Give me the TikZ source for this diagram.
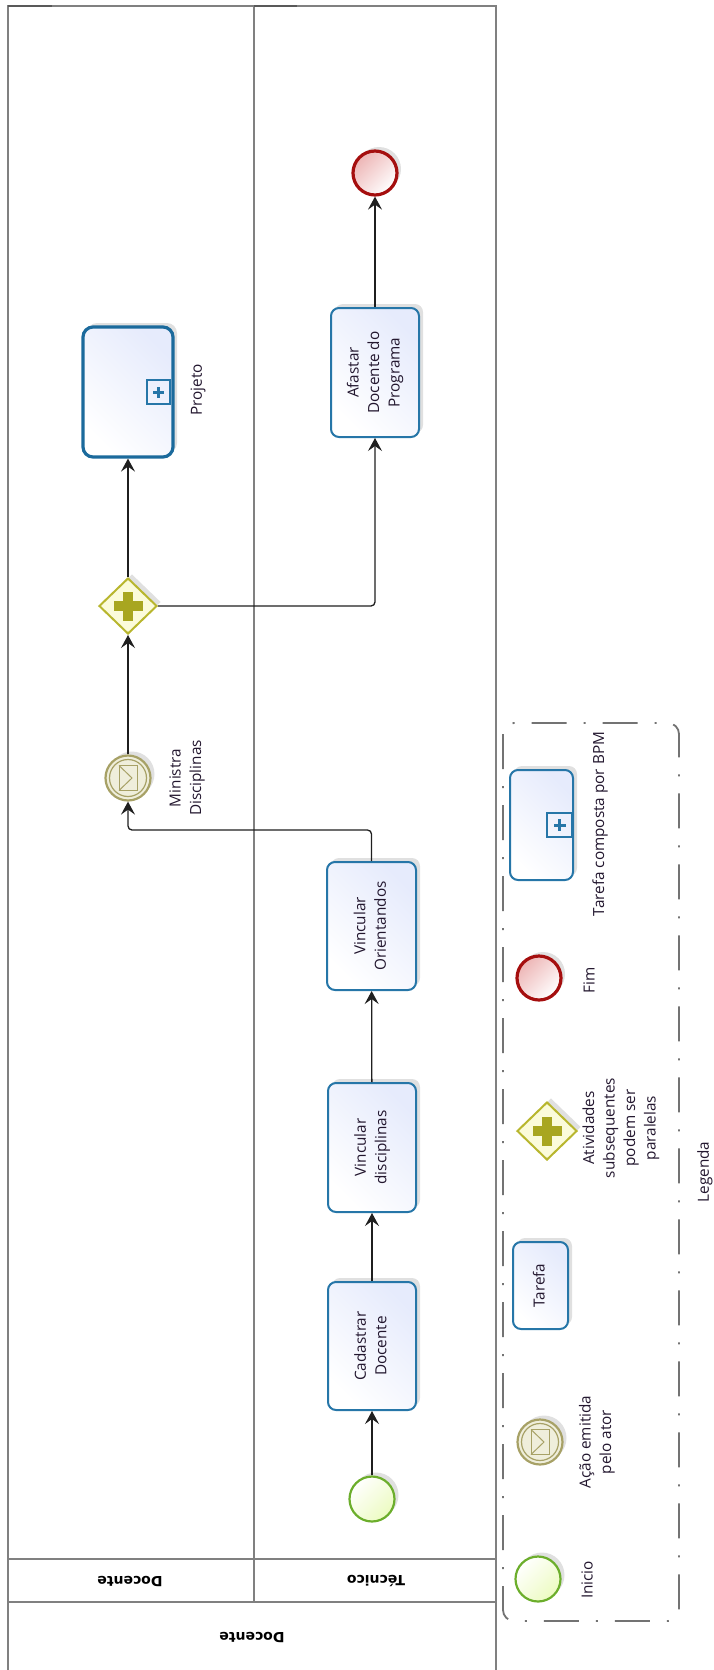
\documentclass[tikz,border=0pt]{standalone}
\usepackage{fontspec}
\setmainfont{Open Sans}
\newfontfamily\hdrfont{DejaVu Sans}
\usetikzlibrary{arrows.meta,shapes.geometric,shadows,calc}
\definecolor{taskB}{HTML}{2676A8}
\definecolor{projB}{HTML}{1B6A9C}
\definecolor{taskF}{HTML}{E6EBFC}
\definecolor{startB}{HTML}{6CAE2C}
\definecolor{startF}{HTML}{ECFBC0}
\definecolor{endB}{HTML}{A50E0E}
\definecolor{endF}{HTML}{EDB5B5}
\definecolor{msgB}{HTML}{A7A166}
\definecolor{msgF}{HTML}{EFEEDB}
\definecolor{gwB}{HTML}{B8B62E}
\definecolor{gwF}{HTML}{FBFBDA}
\definecolor{gwP}{HTML}{A8A620}
\definecolor{poolL}{HTML}{808080}
\definecolor{txt}{HTML}{22162E}
\newcommand\mfs{\fontsize{15.3}{20.5}\selectfont}
\newcommand\vtext[1]{\rotatebox{90}{\begin{tabular}{@{}c@{}}#1\end{tabular}}}
\begin{document}
\begin{tikzpicture}[x=1pt,y=-1pt,
  pool/.style={draw=poolL, line width=1.5pt},
  topmark/.style={draw=black!65, line width=2.5pt},
  shad/.style={drop shadow={shadow xshift=4pt, shadow yshift=4pt, opacity=0.12, fill=black}},
  task/.style={shad, draw=taskB, line width=2pt, rounded corners=8pt, shading=axis,
    top color=taskF, bottom color=white, shading angle=-45, inner sep=0pt,
    text=txt, font=\mfs},
  startev/.style={shad, circle, draw=startB, line width=2.2pt, shading=axis,
    top color=white, bottom color=startF, shading angle=45, minimum size=45pt, inner sep=0pt},
  endev/.style={shad, circle, draw=endB, line width=3.2pt, shading=axis,
    top color=endF, bottom color=white, shading angle=45, minimum size=44pt, inner sep=0pt},
  msgev/.style={shad, circle, draw=msgB, line width=2.2pt, fill=msgF, minimum size=45pt, inner sep=0pt},
  gateway/.style={shad, diamond, draw=gwB, line width=2pt, fill=gwF, minimum width=58pt,
    minimum height=56pt, inner sep=0pt},
  lbl/.style={rotate=90, align=center, text=txt, font=\mfs, inner sep=0pt},
  hdr/.style={rotate=180, text=black, font=\hdrfont\bfseries\fontsize{14}{16}\selectfont, inner sep=0pt},
  flow/.style={draw=black!88, line width=1.3pt, rounded corners=4pt,
    -{Stealth[length=13pt,width=14pt,inset=5pt]}},
  legbox/.style={draw=black!55, line width=1.8pt, rounded corners=11pt,
    dash pattern=on 35pt off 17pt on 2pt off 17pt}
]
\useasboundingbox (0,0) rectangle (713,1670);

% pool and lanes
\draw[pool] (8,1675) -- (8,6) -- (496,6) -- (496,1675);
\draw[pool] (254,6) -- (254,1602);
\draw[pool] (8,1559) -- (496,1559);
\draw[pool] (8,1602) -- (496,1602);
\draw[topmark] (8,6) -- (52,6);
\draw[topmark] (254,6) -- (297,6);
\node[hdr] (hdrDoc) at (130,1581) {Docente};
\node[hdr] (hdrTec) at (376,1581) {Técnico};
\node[hdr] (hdrPool) at (252,1637) {Docente};

% Tecnico lane
\node[startev] (start) at (372,1499) {};
\node[task, minimum width=88pt, minimum height=128pt] (cd) at (372,1346) {\vtext{Cadastrar\\Docente}};
\node[task, minimum width=88pt, minimum height=129pt] (vd) at (372,1147.5) {\vtext{Vincular\\disciplinas}};
\node[task, minimum width=89pt, minimum height=128pt] (vo) at (371.5,926) {\vtext{Vincular\\Orientandos}};
\node[task, minimum width=88pt, minimum height=129pt] (af) at (375,372.5) {\vtext{Afastar\\Docente do\\Programa}};
\node[endev] (end) at (375,173) {};

% Docente lane
\node[msgev] (me) at (128,778) {};
\draw[msgB, line width=1.2pt] (me) circle (18.5);
\draw[msgB, line width=1pt] ($(me)+(-9,-12.5)$) rectangle ($(me)+(9,12.5)$);
\draw[msgB, line width=1pt] ($(me)+(-9,-12.5)$) -- ($(me)+(4,0)$) -- ($(me)+(-9,12.5)$);
\node[lbl] (meLbl) at (187,778) {Ministra\\Disciplinas};

\node[gateway] (gw) at (128,606) {};
\fill[gwP] ($(gw)+(-14.5,-5)$) rectangle ($(gw)+(14.5,5)$);
\fill[gwP] ($(gw)+(-5,-14.5)$) rectangle ($(gw)+(5,14.5)$);

\node[task, draw=projB, line width=3.2pt, rounded corners=10pt, minimum width=90pt, minimum height=130pt] (proj) at (128,392) {};
\draw[taskB, line width=1.8pt] (147,380) rectangle (170,404);
\fill[taskB] (153,390.5) rectangle (164,393.5);
\fill[taskB] (157,386.5) rectangle (160,397.5);
\node[lbl] (projLbl) at (198,390) {Projeto};

% flows
\draw[flow] (start) -- (cd);
\draw[flow] (cd) -- (vd);
\draw[flow] (vd) -- (vo);
\draw[flow] (vo.north) -- ++(0,-31) -| (me.south);
\draw[flow] (me) -- (gw);
\draw[flow] (gw) -- (proj);
\draw[flow] (gw.east) -| (af.south);
\draw[flow] (af) -- (end);

% legend
\draw[legbox] (503,723) rectangle (679,1621);
\node[lbl] (legTitle) at (705,1172) {Legenda};

\node[startev] (lgStart) at (538,1579) {};
\node[lbl] (lgStartLbl) at (587,1580) {Inicio};

\node[msgev] (lgMsg) at (540,1442) {};
\draw[msgB, line width=1.2pt] (lgMsg) circle (18.5);
\draw[msgB, line width=1pt] ($(lgMsg)+(-9,-12.5)$) rectangle ($(lgMsg)+(9,12.5)$);
\draw[msgB, line width=1pt] ($(lgMsg)+(-9,-12.5)$) -- ($(lgMsg)+(4,0)$) -- ($(lgMsg)+(-9,12.5)$);
\node[lbl] (lgMsgLbl) at (597,1442) {Ação emitida\\pelo ator};

\node[task, minimum width=55pt, minimum height=87pt] (lgTask) at (540.5,1285.5) {\vtext{Tarefa}};

\node[gateway, minimum width=60pt, minimum height=58pt] (lgGw) at (547,1131) {};
\fill[gwP] ($(lgGw)+(-14.5,-5)$) rectangle ($(lgGw)+(14.5,5)$);
\fill[gwP] ($(lgGw)+(-5,-14.5)$) rectangle ($(lgGw)+(5,14.5)$);
\node[lbl] (lgGwLbl) at (621,1128) {Atividades\\subsequentes\\podem ser\\paralelas};

\node[endev] (lgEnd) at (539,978) {};
\node[lbl] (lgEndLbl) at (589,980) {Fim};

\node[task, minimum width=63pt, minimum height=110pt] (lgSub) at (541.5,825) {};
\draw[taskB, line width=1.8pt] (547,813) rectangle (572,837);
\fill[taskB] (553.5,823.5) rectangle (565.5,826.5);
\fill[taskB] (558,819) rectangle (561,831);
\node[lbl] (lgSubLbl) at (600,824) {Tarefa composta por BPM};
\end{tikzpicture}
\end{document}
